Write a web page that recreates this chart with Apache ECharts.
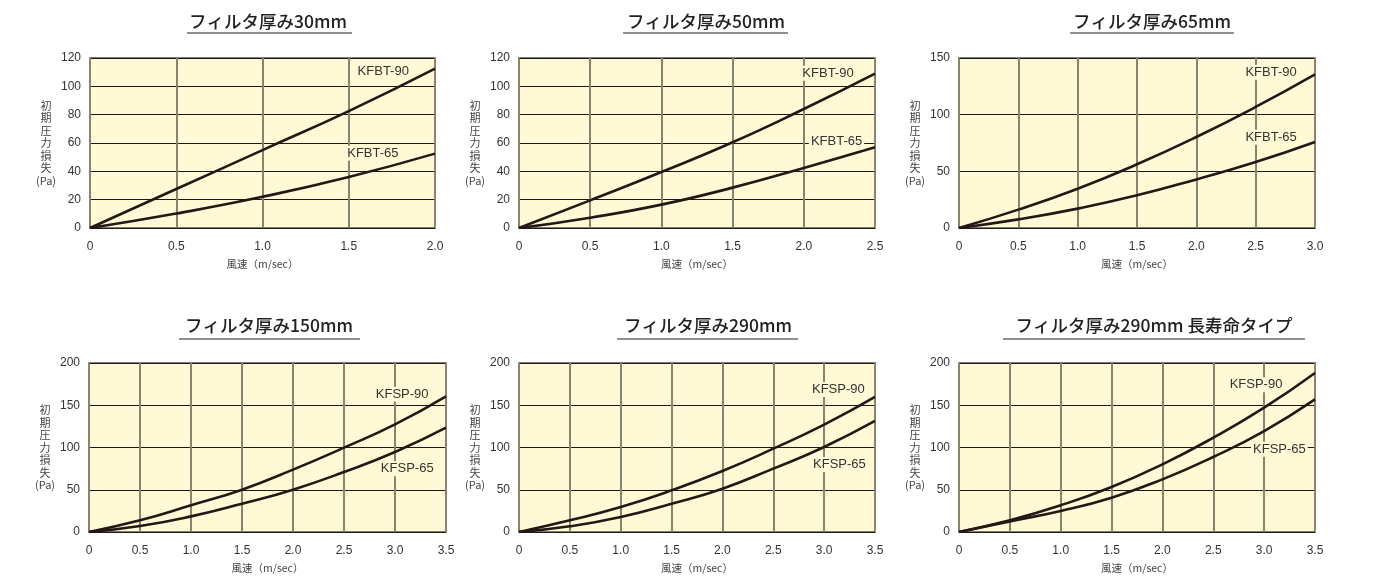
<!DOCTYPE html>
<html><head><meta charset="utf-8">
<script src="https://cdn.jsdelivr.net/npm/echarts@6/dist/echarts.min.js"></script>
<style>html,body{margin:0;padding:0;background:#fff}#c{width:1377px;height:578px}</style>
</head><body><div id="c"></div>
<script>
// ---- data ----
const titles = ['フィルタ厚み30mm','フィルタ厚み50mm','フィルタ厚み65mm','フィルタ厚み150mm','フィルタ厚み290mm','フィルタ厚み290mm 長寿命タイプ'];
const seriesNames = [['KFBT-90','KFBT-65'],['KFBT-90','KFBT-65'],['KFBT-90','KFBT-65'],['KFSP-90','KFSP-65'],['KFSP-90','KFSP-65'],['KFSP-90','KFSP-65']];
const xMax = [2.0, 2.5, 3.0, 3.5, 3.5, 3.5];
const yMax = [120, 120, 150, 200, 200, 200];
const yStep = [20, 20, 50, 50, 50, 50];
const xStep = 0.5;

const x1 = [0,0.5,1,1.5,2];
const p1a = [0,27.5,55,82.5,112.5];
const p1b = [0,10.2,22,36,52.5];

const x2 = [0,0.5,1,1.5,2,2.5];
const p2a = [0,19.5,39.5,60.5,84,109];
const p2b = [0,7.3,16.5,28.5,42.4,57];

const x3 = [0,0.5,1,1.5,2,2.5,3];
const p3a = [0,16.2,34.7,56.2,80.3,106.8,135.6];
const p3b = [0,7.6,17.1,28.8,42.9,58.2,75.9];

const x4 = [0,0.5,1,1.5,2,2.5,3,3.5];
const p4a = [0,13.8,31.6,50.1,73.8,99.8,127.4,160.6];
const p4b = [0,7.1,18.5,33.5,50.1,71,94.7,123.5];
const p5a = [0,13.8,29.6,49.3,72.2,98.6,127,159.8];
const p5b = [0,6.7,17.8,33.5,51.3,75,100.6,131.4];
const p6a = [0,13.8,31.6,53.3,80.1,111.6,147.1,188.2];
const p6b = [0,12.6,24.9,40.6,62.3,88.8,119.5,157];

const panelX = [x1, x2, x3, x4, x4, x4];
const panelY = [[p1a,p1b],[p2a,p2b],[p3a,p3b],[p4a,p4b],[p5a,p5b],[p6a,p6b]];
// label anchor positions (data coords) for the curve names
const labelPos = [
  [[1.70,110.8],[1.64,52.7]],
  [[2.17,109.2],[2.23,60.9]],
  [[2.63,137.4],[2.63,80]],
  [[3.07,163],[3.12,75]],
  [[3.14,168.5],[3.15,80]],
  [[2.92,174.4],[3.15,97.9]]
];

// ---- layout ----
const grids = [
  {left:90, top:58, width:345, height:170},
  {left:519, top:58, width:356, height:170},
  {left:959, top:58, width:356, height:170},
  {left:89, top:363, width:357, height:169},
  {left:519, top:363, width:356, height:169},
  {left:959, top:363, width:356, height:169}
];
const titleCenters = [[268,21],[706,21],[1152,21],[269,325],[708,325],[1154,325]];
const underlines = [[187,352,33],[623,788,33],[1070,1234,33],[179,360,339],[617,798,339],[1003,1305,339]];

const FILL = '#FFF9D6';
const LINE = '#231815';
const LATIN = '"Liberation Sans", Arial, sans-serif';
const CJK = '"Noto Sans CJK JP", "Liberation Sans", sans-serif';

const option = {
  backgroundColor:'#fff',
  animation:false,
  grid: grids.map(g => Object.assign({show:true, backgroundColor:FILL, borderColor:'#5a5245', borderWidth:1.5}, g)),
  xAxis: grids.map((g,i) => ({
    type:'value', gridIndex:i, min:0, max:xMax[i], interval:xStep,
    name:'風速（m/sec）', nameLocation:'middle', nameGap:31,
    nameTextStyle:{fontFamily:CJK, fontSize:10.5, color:'#444'},
    axisLine:{show:false}, axisTick:{show:false},
    axisLabel:{margin:13, fontFamily:LATIN, fontSize:12, color:'#333',
      formatter: v => v === 0 ? '0' : v.toFixed(1)},
    splitLine:{show:true, lineStyle:{color:'#8c8270', width:2}}
  })),
  yAxis: grids.map((g,i) => ({
    type:'value', gridIndex:i, min:0, max:yMax[i], interval:yStep[i],
    name:'初\n期\n圧\n力\n損\n失\n(Pa)', nameLocation:'middle', nameRotate:0, nameGap:42,
    nameTextStyle:{fontFamily:CJK, fontSize:11, color:'#444', lineHeight:12.5, align:'center', verticalAlign:'middle', padding:[16,0,0,0]},
    axisLine:{show:false}, axisTick:{show:false},
    axisLabel:{margin:9, fontFamily:LATIN, fontSize:12, color:'#333'},
    splitLine:{show:true, lineStyle:{color:'#1a1a1a', width:1.2}}
  })),
  series: [],
  graphic: []
};

panelY.forEach((pair, i) => {
  pair.forEach((ys, k) => {
    option.series.push({
      type:'line', xAxisIndex:i, yAxisIndex:i, name:seriesNames[i][k],
      data: panelX[i].map((x, j) => [x, ys[j]]),
      smooth:0.5, symbol:'none',
      lineStyle:{color:LINE, width:2.6},
      markPoint:{
        symbol:'rect', symbolSize:[1,1], itemStyle:{color:'rgba(0,0,0,0)'},
        data:[{coord:labelPos[i][k], value:seriesNames[i][k]}],
        label:{show:true, position:'inside', formatter:'{c}', fontFamily:LATIN, fontSize:13, color:'#333',
          backgroundColor:FILL, padding:[1,2]}
      }
    });
  });
});

titles.forEach((t, i) => {
  option.graphic.push({
    type:'text', x:titleCenters[i][0], y:titleCenters[i][1],
    style:{text:t, font:'500 17.5px "Noto Sans CJK JP", sans-serif', fill:'#222', align:'center', verticalAlign:'middle'}
  });
  const u = underlines[i];
  option.graphic.push({
    type:'line', shape:{x1:u[0], y1:u[2], x2:u[1], y2:u[2]},
    style:{stroke:'#222', lineWidth:1.2}
  });
});

const chart = echarts.init(document.getElementById('c'), null, {renderer:'canvas'});
chart.setOption(option);
</script></body></html>
